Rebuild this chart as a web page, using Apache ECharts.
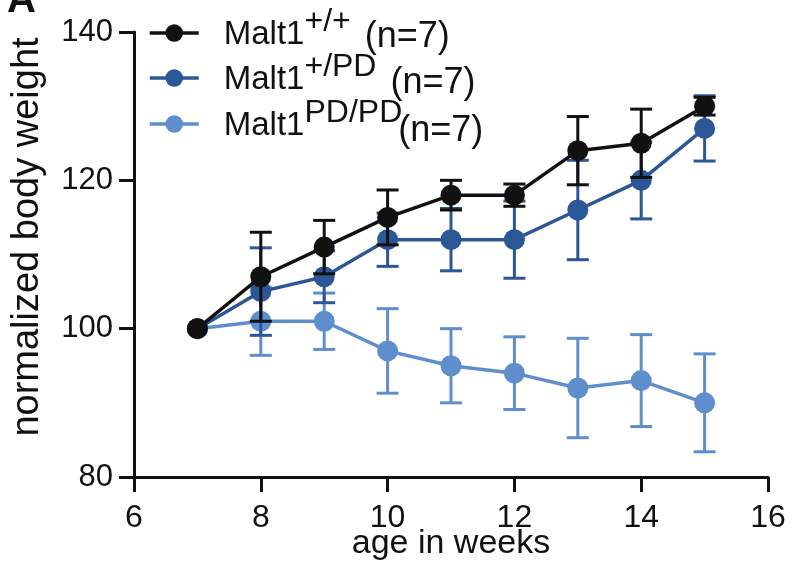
<!DOCTYPE html>
<html>
<head>
<meta charset="utf-8">
<script src="https://cdn.jsdelivr.net/npm/echarts@6/dist/echarts.min.js"></script>
<style>html,body{margin:0;padding:0;background:#fff}#c{width:795px;height:566px}</style>
</head>
<body>
<div id="c"></div>
<script>
// ---- data ----
var weeks = [7, 8, 9, 10, 11, 12, 13, 14, 15];
var wtMean  = [100, 107, 111, 115, 118, 118, 124, 125, 130];
var wtErr   = [0, 6.0, 3.6, 3.7, 2.0, 1.5, 4.6, 4.6, 1.2];
var hetMean = [100, 105, 107, 112, 112, 112, 116, 120, 127];
var hetErr  = [0, 5.9, 3.5, 3.6, 4.2, 5.2, 6.7, 5.2, 4.4];
var pdMean  = [100, 101, 101, 97, 95, 94, 92, 93, 90];
var pdErr   = [0, 4.6, 3.8, 5.7, 5.0, 4.9, 6.7, 6.2, 6.6];
var seriesNames = ['wt', 'het', 'pd'];
var xTicks = [6, 8, 10, 12, 14, 16];
var yTicks = [80, 100, 120, 140];

var FONT = '"Liberation Sans", Arial, Helvetica, sans-serif';
var cWT = '#111111', cHET = '#2c5796', cPD = '#5e8ecb';

function pts(means) { return weeks.map(function (w, i) { return [w, means[i]]; }); }
function errPts(means, errs) { return weeks.map(function (w, i) { return [w, means[i], errs[i]]; }); }

function errRender(color) {
  return function (params, api) {
    var x = api.value(0), y = api.value(1), e = api.value(2);
    if (!e) return null;
    var top = api.coord([x, y + e]);
    var bot = api.coord([x, y - e]);
    var hw = 11;
    var st = { stroke: color, lineWidth: 3 };
    return {
      type: 'group',
      children: [
        { type: 'line', shape: { x1: top[0], y1: top[1], x2: bot[0], y2: bot[1] }, style: st },
        { type: 'line', shape: { x1: top[0] - hw, y1: top[1], x2: top[0] + hw, y2: top[1] }, style: st },
        { type: 'line', shape: { x1: bot[0] - hw, y1: bot[1], x2: bot[0] + hw, y2: bot[1] }, style: st }
      ]
    };
  };
}

function lineSeries(name, data, color, z) {
  return {
    name: name, type: 'line', data: data, z: z,
    symbol: 'circle', symbolSize: 21,
    lineStyle: { color: color, width: 3.5 },
    itemStyle: { color: color },
    emphasis: { disabled: true }
  };
}
function errSeries(data, color, z) {
  return {
    type: 'custom', data: data, z: z, renderItem: errRender(color),
    encode: { x: 0, y: 1 }, silent: true
  };
}

var legendLabels = {
  wt:  '{m|Malt1}{s|+/+}{n1|(n=7)}',
  het: '{m|Malt1}{s|+/PD}{n2|(n=7)}',
  pd:  '{m|Malt1}{s|PD/PD}{n3|(n=7)}'
};

var chart = echarts.init(document.getElementById('c'), null, { renderer: 'canvas' });
chart.setOption({
  animation: false,
  backgroundColor: '#ffffff',
  title: { text: 'A', left: 2, top: -24, textStyle: { fontSize: 40, fontWeight: 'bold', color: '#111', fontFamily: FONT } },
  grid: { left: 134, right: 27, top: 32, bottom: 89, containLabel: false, outerBoundsMode: 'none' },
  legend: {
    orient: 'vertical', left: 148, top: 6, itemGap: -4, padding: 0,
    itemWidth: 49, itemHeight: 22,
    data: seriesNames,
    lineStyle: { width: 3.5 },
    formatter: function (n) { return legendLabels[n]; },
    textStyle: {
      color: '#111', fontFamily: FONT, padding: [4, 0, 0, 0],
      rich: {
        m: { fontSize: 33, height: 40, verticalAlign: 'middle', padding: [0, 0, 0, 20], fontFamily: FONT, color: '#111' },
        s: { fontSize: 32, height: 14, verticalAlign: 'top', fontFamily: FONT, color: '#111' },
        n1: { fontSize: 36, height: 36, verticalAlign: 'bottom', padding: [0, 0, 0, 14], fontFamily: FONT, color: '#111' },
        n2: { fontSize: 36, height: 34, verticalAlign: 'bottom', padding: [0, 0, 0, 14], fontFamily: FONT, color: '#111' },
        n3: { fontSize: 36, height: 30, verticalAlign: 'bottom', padding: [0, 0, 0, -4], fontFamily: FONT, color: '#111' }
      }
    }
  },
  xAxis: {
    type: 'value', min: xTicks[0], max: xTicks[xTicks.length - 1], interval: 2,
    name: 'age in weeks', nameLocation: 'middle', nameGap: 50, nameMoveOverlap: false,
    nameTextStyle: { fontSize: 34, color: '#111', fontFamily: FONT },
    axisLine: { show: true, lineStyle: { color: '#111', width: 3 } },
    axisTick: { show: true, length: 15, lineStyle: { color: '#111', width: 3 } },
    axisLabel: { fontSize: 32, color: '#111', fontFamily: FONT, margin: 25 },
    splitLine: { show: false }
  },
  yAxis: {
    type: 'value', min: yTicks[0], max: yTicks[yTicks.length - 1], interval: 20,
    name: 'normalized body weight', nameLocation: 'middle', nameRotate: 90, nameGap: 87, nameMoveOverlap: false,
    nameTextStyle: { fontSize: 38, color: '#111', fontFamily: FONT, padding: [0, 0, 0, 35] },
    axisLine: { show: true, lineStyle: { color: '#111', width: 3 } },
    axisTick: { show: true, length: 15, lineStyle: { color: '#111', width: 3 } },
    axisLabel: { fontSize: 31, color: '#111', fontFamily: FONT, margin: 21 },
    splitLine: { show: false }
  },
  series: [
    errSeries(errPts(pdMean, pdErr), cPD, 2),
    lineSeries('pd', pts(pdMean), cPD, 3),
    errSeries(errPts(hetMean, hetErr), cHET, 4),
    lineSeries('het', pts(hetMean), cHET, 5),
    errSeries(errPts(wtMean, wtErr), cWT, 6),
    lineSeries('wt', pts(wtMean), cWT, 7)
  ]
});
</script>
</body>
</html>
